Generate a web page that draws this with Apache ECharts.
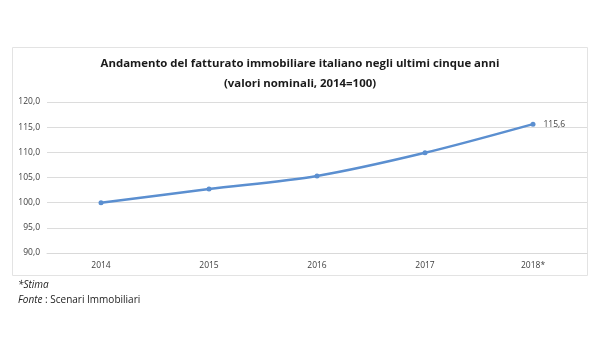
<!DOCTYPE html>
<html>
<head>
<meta charset="utf-8">
<style>
html,body{margin:0;padding:0;background:#fff;}
#c{width:600px;height:360px;}
</style>
<script src="https://cdn.jsdelivr.net/npm/echarts@6/dist/echarts.min.js"></script>
</head>
<body>
<div id="c"></div>
<script>
const categories = ['2014', '2015', '2016', '2017', '2018*'];
const values = [100.0, 102.7, 105.3, 109.9, 115.6];
const yTicks = [90, 95, 100, 105, 110, 115, 120];

const chart = echarts.init(document.getElementById('c'));
const fmt = v => v.toFixed(1).replace('.', ',');
chart.setOption({
  animation: false,
  backgroundColor: '#fff',
  title: {
    text: 'Andamento del fatturato immobiliare italiano negli ultimi cinque anni\n(valori nominali, 2014=100)',
    left: 'center',
    top: 49,
    textStyle: {fontFamily: 'Open Sans', fontWeight: 'bold', fontSize: 11.4, color: '#1a1a1a', lineHeight: 20}
  },
  grid: {left: 47, right: 13, top: 102, bottom: 107, containLabel: false},
  xAxis: {
    type: 'category',
    data: categories,
    boundaryGap: true,
    axisLine: {show: true, lineStyle: {color: '#d9d9d9'}},
    axisTick: {show: false},
    axisLabel: {fontFamily: 'Open Sans', fontSize: 8.5, color: '#404040', margin: 8}
  },
  yAxis: {
    type: 'value',
    min: yTicks[0],
    max: yTicks[yTicks.length - 1],
    interval: 5,
    axisLine: {show: false},
    axisTick: {show: false},
    splitLine: {lineStyle: {color: '#dcdcdc', width: 1}},
    axisLabel: {fontFamily: 'Open Sans', fontSize: 8.5, color: '#404040', margin: 7, formatter: fmt}
  },
  series: [{
    type: 'line',
    data: values.map((v, i) => i === values.length - 1 ? {value: v, label: {show: true}} : v),
    smooth: 0.3,
    symbol: 'circle',
    symbolSize: 5,
    lineStyle: {color: '#5b8fd0', width: 2.5},
    itemStyle: {color: '#5b8fd0'},
    label: {show: false, position: 'right', distance: 8, fontFamily: 'Open Sans', fontSize: 8.5, color: '#404040', formatter: p => fmt(p.value)}
  }],
  graphic: [
    {type: 'rect', shape: {x: 12.5, y: 47.5, width: 575, height: 228}, style: {fill: 'none', stroke: '#e3e3e3', lineWidth: 1}, silent: true, z: -1},
    {type: 'text', left: 18, top: 280, style: {text: '*Stima', font: 'italic 10px "Open Sans"', fill: '#222'}},
    {type: 'text', left: 18, top: 295, style: {
      text: '{i|Fonte} : Scenari Immobiliari',
      font: '10px "Open Sans"', fill: '#222',
      rich: {i: {fontStyle: 'italic', fontFamily: 'Open Sans', fontSize: 10, fill: '#222'}}
    }}
  ]
});
</script>
</body>
</html>
